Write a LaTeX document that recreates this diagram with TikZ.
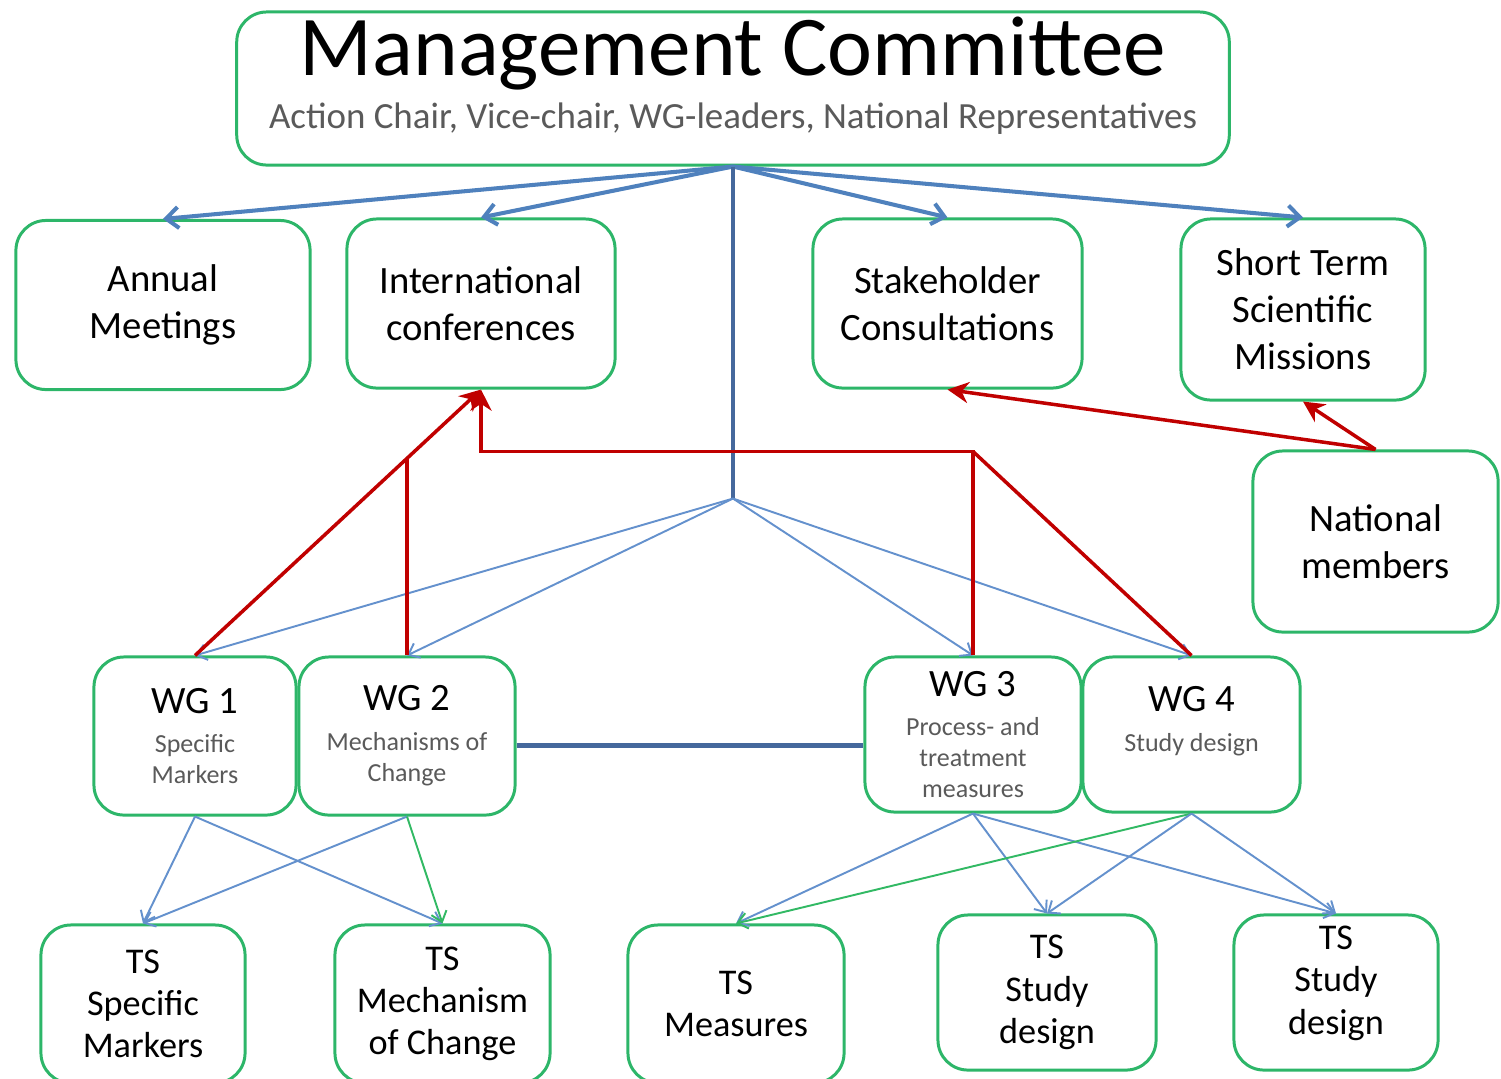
\documentclass[tikz,border=0pt]{standalone}
\usepackage{fontspec}
\setmainfont{Carlito}
\usetikzlibrary{positioning, calc, arrows.meta}
\definecolor{boxgreen}{RGB}{45,182,105}
\definecolor{linkblue}{RGB}{79,129,189}
\definecolor{stemblue}{RGB}{69,104,156}
\definecolor{thinblue}{RGB}{100,145,205}
\definecolor{thingreen}{RGB}{50,185,100}
\definecolor{feedred}{RGB}{192,0,0}
\definecolor{subgray}{RGB}{90,90,90}
\newcommand{\wgtitle}{\fontsize{11}{13}\selectfont\color{black}}
\tikzset{box/.style={draw=boxgreen, line width=0.85pt, rounded corners=0.3cm, fill=white, align=center, inner sep=0pt, font=\fontsize{11}{13.4}\selectfont}}
\tikzset{wgbox/.style={box, text=subgray, font=\fontsize{7.4}{8.8}\selectfont}}
\tikzset{tsbox/.style={box, font=\fontsize{10.3}{12}\selectfont}}
\tikzset{mainlink/.style={linkblue, line width=1.15pt, -{Straight Barb[length=3.5pt,width=6pt]}}}
\tikzset{stem/.style={stemblue, line width=1.4pt}}
\tikzset{branch/.style={thinblue, line width=0.55pt, -{Straight Barb[length=2.8pt,width=4.5pt]}}}
\tikzset{greenbranch/.style={branch, thingreen}}
\tikzset{feed/.style={feedred, line width=1pt}}
\tikzset{feedtip/.style={feed, -{Stealth[length=6pt,width=6pt]}}}

\begin{document}
\begin{tikzpicture}[x=0.01cm, y=-0.01cm]
  \useasboundingbox (0,0) rectangle (1501,1078);
  \clip (0,0) rectangle (1501,1078);

  \node[box, minimum width=9.92cm, minimum height=1.53cm] (mc) at (733,88.5) {};
  \node[anchor=base, font=\fontsize{24.2}{28}\selectfont] (mctitle) at (733,75) {Management Committee};
  \node[anchor=base, font=\fontsize{10.5}{12}\selectfont, text=subgray] (mcsub) at (733,128) {Action Chair, Vice-chair, WG-leaders, National Representatives};

  \node[box, minimum width=2.94cm, minimum height=1.69cm] (annual) at (163,305) {Annual\\ Meetings};
  \node[box, minimum width=2.68cm, minimum height=1.69cm] (intl) at (481,303.5) {International\\ conferences};
  \node[box, minimum width=2.69cm, minimum height=1.69cm] (stake) at (947.5,303.5) {Stakeholder\\ Consultations};
  \node[box, minimum width=2.44cm, minimum height=1.81cm] (stsm) at (1303,309.5) {Short Term\\ Scientific\\ Missions};
  \node[box, minimum width=2.45cm, minimum height=1.81cm] (natl) at (1375.5,541.5) {National\\ members};

  \node[wgbox, minimum width=2.02cm, minimum height=1.58cm] (wg1) at (195,736) {{\wgtitle WG 1}\\[2.5pt] Specific\\ Markers};
  \node[wgbox, minimum width=2.16cm, minimum height=1.58cm] (wg2) at (407,736) {{\wgtitle WG 2}\\[2.5pt] Mechanisms of\\ Change};
  \node[wgbox, minimum width=2.16cm, minimum height=1.55cm] (wg3) at (973,734.5) {{\wgtitle WG 3}\\[2.5pt] Process- and\\ treatment\\ measures};
  \node[wgbox, minimum width=2.17cm, minimum height=1.55cm] (wg4) at (1191.5,734.5) {{\wgtitle WG 4}\\[2.5pt] Study design\\ \mbox{}};

  \node[tsbox, minimum width=2.04cm, minimum height=1.58cm] (tsmark) at (143,1004) {TS\\ Specific\\ Markers};
  \node[tsbox, minimum width=2.15cm, minimum height=1.58cm] (tsmech) at (442.5,1004) {TS\\ Mechanism\\ of Change};
  \node[tsbox, minimum width=2.16cm, minimum height=1.58cm] (tsmeas) at (736,1004) {TS\\ Measures};
  \node[tsbox, minimum width=2.18cm, minimum height=1.55cm] (tsdesa) at (1047,992.5) {TS\\ Study\\ design};
  \node[tsbox, minimum width=2.04cm, minimum height=1.55cm] (tsdesb) at (1336,992.5) {TS\\ Study\\ design\\[-5pt] \mbox{}};

  \coordinate (stemfoot) at ($(mc.south)+(0,332)$);
  \coordinate (bridge) at ([yshift=-2.6pt]wg2.east);
  \coordinate (redhub) at ($(wg3.north)+(0,-204)$);
  \coordinate (redjoin) at ($(wg1.north)!0.739!(intl.south)$);

  \draw[mainlink] (mc.south) -- (annual.north);
  \draw[mainlink] (mc.south) -- (intl.north);
  \draw[mainlink] (mc.south) -- (stake.north);
  \draw[mainlink] (mc.south) -- (stsm.north);
  \draw[stem] (mc.south) -- (stemfoot);
  \draw[stem] (bridge) -- (bridge -| wg3.west);

  \draw[branch] (stemfoot) -- (wg1.north);
  \draw[branch] (stemfoot) -- (wg2.north);
  \draw[branch] (stemfoot) -- (wg3.north);
  \draw[branch] (stemfoot) -- (wg4.north);

  \draw[branch] (wg1.south) -- (tsmark.north);
  \draw[branch] (wg1.south) -- (tsmech.north);
  \draw[branch] (wg2.south) -- (tsmark.north);
  \draw[greenbranch] (wg2.south) -- (tsmech.north);
  \draw[branch] (wg3.south) -- (tsmeas.north);
  \draw[branch] (wg3.south) -- (tsdesa.north);
  \draw[branch] (wg3.south) -- (tsdesb.north);
  \draw[greenbranch] (wg4.south) -- (tsmeas.north);
  \draw[branch] (wg4.south) -- (tsdesa.north);
  \draw[branch] (wg4.south) -- (tsdesb.north);

  \draw[feedtip] (wg1.north) -- (intl.south);
  \draw[feed] (wg2.north) -- (wg2.north |- redjoin);
  \draw[feedtip] (wg3.north) -- (redhub) -| (intl.south);
  \draw[feed] (wg4.north) -- (redhub);
  \draw[feedtip] (natl.north) -- (stake.south);
  \draw[feedtip] (natl.north) -- (stsm.south);
\end{tikzpicture}
\end{document}
